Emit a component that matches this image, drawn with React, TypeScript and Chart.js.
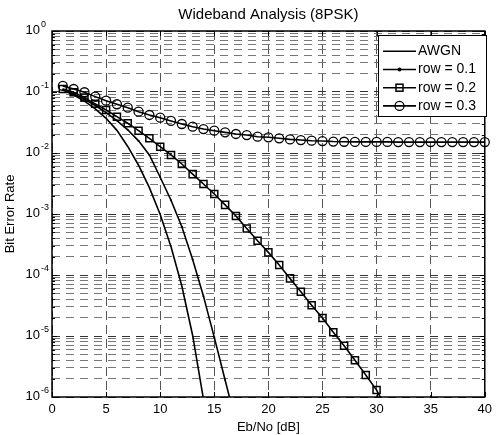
import React, { useEffect, useRef } from 'react';
import { Chart, registerables } from 'chart.js';

Chart.register(...registerables);

const FONT = "'Liberation Sans', Arial, Helvetica, sans-serif";

// ---- text ----
const chartTitle = 'Wideband Analysis (8PSK)';
const xAxisTitle = 'Eb/No [dB]';
const yAxisTitle = 'Bit Error Rate';
const seriesNames = ['AWGN', 'row = 0.1', 'row = 0.2', 'row = 0.3'];

// ---- ticks ----
const xTickValues = [0, 5, 10, 15, 20, 25, 30, 35, 40];
const yDecadeExponents = [0, -1, -2, -3, -4, -5, -6];

// ---- data ----
const ebnoAwgn = [1, 2, 3, 4, 5, 6, 7, 8, 9, 10, 11, 12, 13, 14, 15];
const berAwgn = [0.108, 0.089, 0.071, 0.053, 0.037, 0.0235, 0.0128, 0.0063, 0.0027, 0.00098, 0.00029, 0.000066, 0.0000102, 0.00000092, 0.000000045];

const ebnoRow01 = [1, 2, 3, 4, 5, 6, 7, 8, 9, 10, 11, 12, 13, 14, 15, 16, 17];
const berRow01 = [0.11, 0.093, 0.076, 0.06, 0.046, 0.034, 0.024, 0.0158, 0.0093, 0.004, 0.00168, 0.00062, 0.00018, 0.000045, 0.0000095, 0.0000019, 0.00000038];

const ebnoRow02 = [1, 2, 3, 4, 5, 6, 7, 8, 9, 10, 11, 12, 13, 14, 15, 16, 17, 18, 19, 20, 21, 22, 23, 24, 25, 26, 27, 28, 29, 30, 31];
const berRow02 = [0.112, 0.099, 0.081, 0.064, 0.0507, 0.0394, 0.0307, 0.0232, 0.0174, 0.0127, 0.0093, 0.0066, 0.0045, 0.0031, 0.00213, 0.00141, 0.00093, 0.00058, 0.000365, 0.000235, 0.000146, 0.000088, 0.000053, 0.000032, 0.0000197, 0.0000115, 0.0000069, 0.000004, 0.0000023, 0.0000013, 0.0000006];

const ebnoRow03 = [1, 2, 3, 4, 5, 6, 7, 8, 9, 10, 11, 12, 13, 14, 15, 16, 17, 18, 19, 20, 21, 22, 23, 24, 25, 26, 27, 28, 29, 30, 31, 32, 33, 34, 35, 36, 37, 38, 39, 40];
const berRow03 = [0.126, 0.112, 0.099, 0.084, 0.072, 0.063, 0.0554, 0.0476, 0.042, 0.0379, 0.0335, 0.0299, 0.027, 0.0247, 0.0232, 0.0218, 0.0205, 0.0197, 0.0185, 0.0181, 0.0174, 0.0167, 0.0163, 0.0159, 0.0157, 0.0154, 0.0153, 0.0152, 0.0152, 0.0152, 0.0152, 0.0151, 0.0151, 0.0151, 0.0151, 0.0151, 0.0151, 0.0151, 0.0151, 0.0151];

const toPoints = (xs: number[], ys: number[]) => xs.map((x, i) => ({ x, y: ys[i] }));

const isDecade = (v: number) => Math.abs(Math.log10(v) - Math.round(Math.log10(v))) < 1e-9;

const yGridValues: number[] = (() => {
  const out: number[] = [];
  const exps = [...yDecadeExponents].sort((a, b) => a - b);
  for (let i = 0; i < exps.length - 1; i++) {
    for (let k = 1; k <= 9; k++) out.push(parseFloat((k * Math.pow(10, exps[i])).toPrecision(3)));
  }
  out.push(Math.pow(10, exps[exps.length - 1]));
  return out;
})();

function drawMarker(ctx: CanvasRenderingContext2D, kind: string, x: number, y: number) {
  ctx.save();
  ctx.strokeStyle = '#000';
  ctx.fillStyle = '#000';
  ctx.setLineDash([]);
  if (kind === 'dot') {
    ctx.beginPath();
    ctx.arc(x, y, 2, 0, Math.PI * 2);
    ctx.fill();
  } else if (kind === 'rect') {
    ctx.lineWidth = 1.5;
    ctx.strokeRect(x - 3.5, y - 3.5, 7, 7);
  } else if (kind === 'circle') {
    ctx.lineWidth = 1.3;
    ctx.beginPath();
    ctx.arc(x, y, 4.5, 0, Math.PI * 2);
    ctx.stroke();
  }
  ctx.restore();
}

const markerKinds = ['none', 'dot', 'rect', 'circle'];

const decorPlugin = {
  id: 'matlabDecor',
  afterDraw(chart: any) {
    const { ctx, chartArea: a, scales } = chart;
    const xs = scales.x;
    const ys = scales.y;
    ctx.save();
    ctx.setLineDash([]);
    ctx.strokeStyle = '#000';

    // inner tick marks
    ctx.lineWidth = 1;
    ctx.beginPath();
    for (const v of xTickValues) {
      const px = Math.round(xs.getPixelForValue(v)) + 0.5;
      ctx.moveTo(px, a.bottom);
      ctx.lineTo(px, a.bottom - 5);
      ctx.moveTo(px, a.top);
      ctx.lineTo(px, a.top + 5);
    }
    for (const v of yGridValues) {
      const py = Math.round(ys.getPixelForValue(v)) + 0.5;
      const len = isDecade(v) ? 5 : 3;
      ctx.moveTo(a.left, py);
      ctx.lineTo(a.left + len, py);
      ctx.moveTo(a.right, py);
      ctx.lineTo(a.right - len, py);
    }
    ctx.stroke();

    // axes box
    ctx.lineWidth = 1.5;
    ctx.strokeRect(a.left, a.top, a.right - a.left, a.bottom - a.top);

    // y labels 10^e
    ctx.fillStyle = '#000';
    for (const e of yDecadeExponents) {
      const py = ys.getPixelForValue(Math.pow(10, e));
      ctx.font = `13px ${FONT}`;
      ctx.textAlign = 'right';
      ctx.textBaseline = 'middle';
      ctx.fillText('10', a.left - 12, py - 1);
      ctx.font = `9px ${FONT}`;
      ctx.textAlign = 'left';
      ctx.textBaseline = 'alphabetic';
      ctx.fillText(String(e), a.left - 11, py - 4);
    }

    // title
    ctx.font = `15px ${FONT}`;
    ctx.textAlign = 'center';
    ctx.textBaseline = 'middle';
    ctx.fillText(chartTitle, (a.left + a.right) / 2, 15);

    // x axis title
    ctx.font = `13px ${FONT}`;
    ctx.fillText(xAxisTitle, (a.left + a.right) / 2, 427);

    // y axis title
    ctx.save();
    ctx.translate(10, (a.top + a.bottom) / 2);
    ctx.rotate(-Math.PI / 2);
    ctx.fillText(yAxisTitle, 0, 0);
    ctx.restore();

    // legend
    const L = 378.5, T = 35.5, R = 486.5, B = 116.5;
    ctx.fillStyle = '#fff';
    ctx.fillRect(L, T, R - L, B - T);
    ctx.strokeStyle = '#000';
    ctx.lineWidth = 1;
    ctx.strokeRect(L, T, R - L, B - T);
    seriesNames.forEach((name, i) => {
      const y = 51.3 + i * 18.2;
      ctx.beginPath();
      ctx.lineWidth = 1.6;
      ctx.moveTo(383, y);
      ctx.lineTo(416, y);
      ctx.stroke();
      drawMarker(ctx, markerKinds[i], 399.5, y);
      ctx.fillStyle = '#000';
      ctx.font = `14px ${FONT}`;
      ctx.textAlign = 'left';
      ctx.textBaseline = 'middle';
      ctx.fillText(name, 418, y);
    });

    ctx.restore();
  },
};

export default function App() {
  const ref = useRef<HTMLCanvasElement>(null);

  useEffect(() => {
    if (!ref.current) return;
    const lineBase = {
      borderColor: '#000',
      borderWidth: 1.6,
      tension: 0,
      fill: false,
      pointBorderColor: '#000',
      pointBackgroundColor: 'rgba(0,0,0,0)',
    };
    const chart = new Chart(ref.current, {
      type: 'line',
      data: {
        datasets: [
          { ...lineBase, label: seriesNames[0], data: toPoints(ebnoAwgn, berAwgn), pointRadius: 0 },
          { ...lineBase, label: seriesNames[1], data: toPoints(ebnoRow01, berRow01), pointRadius: 1, pointStyle: 'circle', pointBackgroundColor: '#000', pointBorderWidth: 0 },
          { ...lineBase, label: seriesNames[2], data: toPoints(ebnoRow02, berRow02), pointRadius: 5, pointStyle: 'rect', pointBorderWidth: 1.5 },
          { ...lineBase, label: seriesNames[3], data: toPoints(ebnoRow03, berRow03), pointRadius: 4.5, pointStyle: 'circle', pointBorderWidth: 1.3, clip: { left: 6, right: 6, top: 0, bottom: 0 } },
        ],
      } as any,
      options: {
        responsive: false,
        animation: false,
        devicePixelRatio: 1,
        events: [],
        layout: { padding: { top: 31, right: 9, left: 0, bottom: 0 } },
        plugins: {
          legend: { display: false },
          tooltip: { enabled: false },
          title: { display: false },
        },
        scales: {
          x: {
            type: 'linear',
            min: 0,
            max: 40,
            afterBuildTicks: (s: any) => {
              s.ticks = xTickValues.map((v) => ({ value: v }));
            },
            afterFit: (s: any) => {
              s.height = 38;
            },
            grid: { color: '#555', lineWidth: 1, drawTicks: false },
            border: { display: false, dash: [9, 5] },
            ticks: {
              color: '#000',
              font: { family: FONT, size: 13 },
              padding: 5,
              autoSkip: false,
              maxRotation: 0,
              callback: (v: any) => String(v),
            },
          },
          y: {
            type: 'logarithmic',
            min: 1e-6,
            max: 1,
            afterBuildTicks: (s: any) => {
              s.ticks = yGridValues.map((v) => ({ value: v, major: isDecade(v) }));
            },
            afterFit: (s: any) => {
              s.width = 52;
            },
            grid: {
              color: (c: any) => (c.tick && c.tick.major ? '#333' : '#777'),
              lineWidth: 1,
              drawTicks: false,
            },
            border: { display: false, dash: [8, 6] },
            ticks: { display: false, autoSkip: false },
          },
        },
      } as any,
      plugins: [decorPlugin],
    });
    return () => chart.destroy();
  }, []);

  return (
    <div style={{ position: 'fixed', left: 0, top: 0, width: 497, height: 435, background: '#fff' }}>
      <canvas ref={ref} width={497} height={435} style={{ display: 'block', width: 497, height: 435 }} />
    </div>
  );
}
